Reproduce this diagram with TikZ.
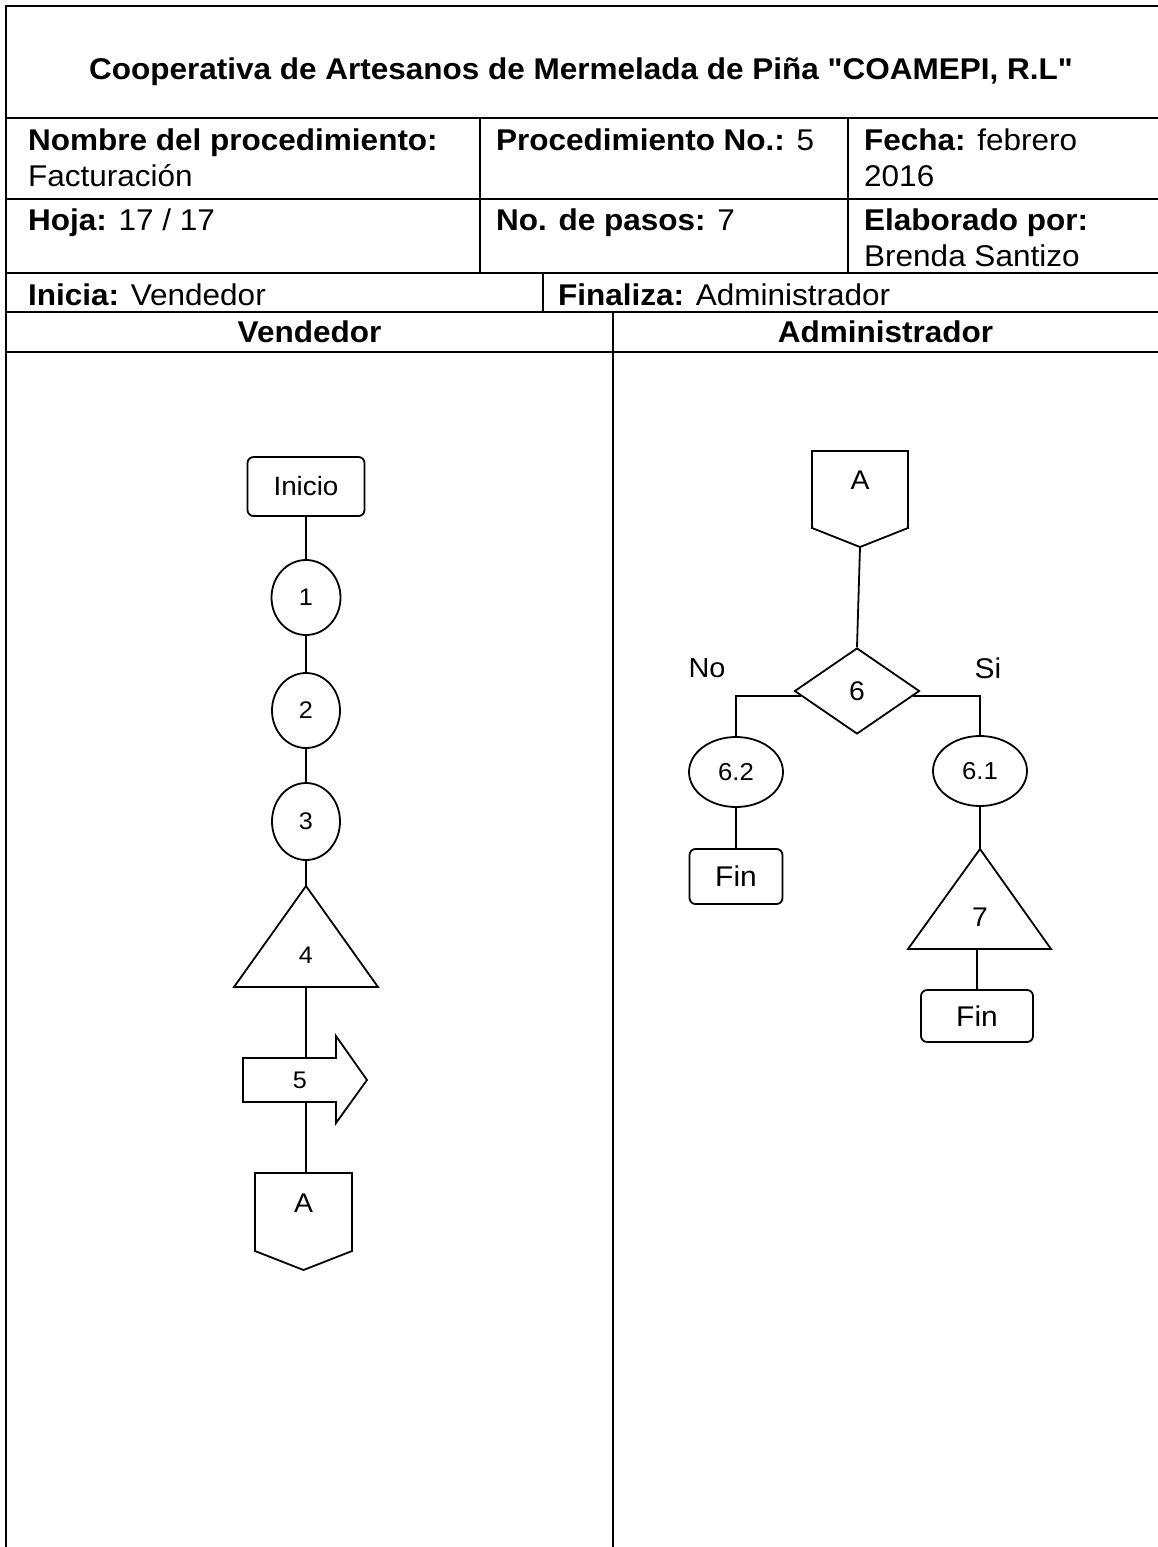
\documentclass[tikz,border=0pt]{standalone}
\usepackage{fontspec}
\setmainfont{Liberation Sans}[FakeStretch=1.05]
\newfontfamily\titlefont{Liberation Sans}[FakeStretch=1.05]
\usetikzlibrary{shapes.geometric}
\begin{document}
\begin{tikzpicture}[x=1pt,y=-1pt,
  grid/.style={line width=2pt},
  link/.style={line width=1.8pt},
  outline/.style={draw,line width=1.8pt,line join=miter},
  cell/.style={anchor=base west,inner sep=0pt,font=\fontsize{30}{34}\selectfont},
  lanehead/.style={anchor=base,inner sep=0pt,font=\fontsize{30}{34}\selectfont\bfseries},
  term/.style={outline,rounded corners=6pt,inner sep=0pt},
  proc/.style={outline,ellipse,inner sep=0pt},
  lbl/.style={inner sep=0pt}
]
\useasboundingbox (0,0) rectangle (1158,1547);
\fill[white] (0,0) rectangle (1158,1547);

% ---------- header table ----------
\draw[grid] (6,1547) -- (6,6) -- (1158,6);
\foreach \yy in {118,199,273,312,352} \draw[grid] (6,\yy) -- (1158,\yy);
\draw[grid] (480,118) -- (480,273);
\draw[grid] (848,118) -- (848,273);
\draw[grid] (543,273) -- (543,312);
\draw[grid] (613,312) -- (613,1547);

\node[anchor=base,inner sep=0pt,font=\titlefont\fontsize{30}{34}\selectfont\bfseries] (title) at (581,79)
  {Cooperativa de Artesanos de Mermelada de Piña "COAMEPI, R.L"};

\node[cell] (nombre) at (28,150) {\textbf{Nombre del procedimiento:}};
\node[cell] (nombrev) at (28,186) {Facturación};
\node[cell] (procno) at (496,150) {\textbf{Procedimiento No.:} 5};
\node[cell] (fecha) at (864,150) {\textbf{Fecha:} febrero};
\node[cell] (fechav) at (864,186) {2016};
\node[cell] (hoja) at (28,230) {\textbf{Hoja:} 17 / 17};
\node[cell] (pasos) at (496,230) {\textbf{No. de pasos:} 7};
\node[cell] (elab) at (864,230) {\textbf{Elaborado por:}};
\node[cell] (elabv) at (864,266) {Brenda Santizo};
\node[cell] (inicia) at (28,305) {\textbf{Inicia:} Vendedor};
\node[cell] (finaliza) at (558,305) {\textbf{Finaliza:} Administrador};
\node[lanehead] (laneV) at (309.5,342) {Vendedor};
\node[lanehead] (laneA) at (885.5,342) {Administrador};

% ---------- Vendedor lane ----------
\node[term,minimum width=117pt,minimum height=59pt,font=\fontsize{26.5}{30}\selectfont] (ini) at (306,486.5) {Inicio};
\node[proc,minimum width=69pt,minimum height=75pt,font=\fontsize{24}{27}\selectfont] (c1) at (306,597.5) {1};
\node[proc,minimum width=68pt,minimum height=75pt,font=\fontsize{24}{27}\selectfont] (c2) at (306,710.5) {2};
\node[proc,minimum width=68pt,minimum height=77pt,font=\fontsize{24}{27}\selectfont] (c3) at (306,821.5) {3};

% step 4: triangle
\draw[outline] (306,886) -- (378,987) -- (234,987) -- cycle;
\node[lbl,font=\fontsize{24}{27}\selectfont] (s4) at (306,955) {4};
\coordinate (s4top) at (306,886);
\coordinate (s4bot) at (306,987);

% step 5: block arrow
\draw[outline] (243,1058) -- (336,1058) -- (336,1036) -- (367,1080) -- (336,1123) -- (336,1102) -- (243,1102) -- cycle;
\node[lbl,font=\fontsize{24}{27}\selectfont] (s5) at (300,1080) {5};
\coordinate (s5top) at (306,1058);
\coordinate (s5bot) at (306,1102);

% off-page connector A (out)
\draw[outline] (255,1173) -- (352,1173) -- (352,1251) -- (303.5,1270) -- (255,1251) -- cycle;
\node[lbl,font=\fontsize{27}{30}\selectfont] (aout) at (303.5,1203) {A};
\coordinate (aouttop) at (306,1173);

\draw[link] (ini.south) -- (c1.north);
\draw[link] (c1.south) -- (c2.north);
\draw[link] (c2.south) -- (c3.north);
\draw[link] (c3.south) -- (s4top);
\draw[link] (s4bot) -- (s5top);
\draw[link] (s5bot) -- (aouttop);

% ---------- Administrador lane ----------
\draw[outline] (812,451) -- (908,451) -- (908,528) -- (860,547) -- (812,528) -- cycle;
\node[lbl,font=\fontsize{27}{30}\selectfont] (ain) at (860,480) {A};
\coordinate (ainbot) at (860,547);

\node[outline,diamond,minimum width=125pt,minimum height=86pt,inner sep=0pt,font=\fontsize{27}{30}\selectfont] (d6) at (857,691) {6};
\node[lbl,font=\fontsize{27.5}{30}\selectfont] (no) at (707,668) {No};
\node[lbl,font=\fontsize{28.5}{31}\selectfont] (si) at (988,668) {Si};

\node[proc,minimum width=94pt,minimum height=70pt,font=\fontsize{24.5}{27}\selectfont] (e62) at (736,772) {6.2};
\node[proc,minimum width=94pt,minimum height=70pt,font=\fontsize{24.5}{27}\selectfont] (e61) at (980,771) {6.1};
\node[term,minimum width=93pt,minimum height=55pt,font=\fontsize{28.5}{31}\selectfont] (fin1) at (736,876.5) {Fin};

% step 7: triangle
\draw[outline] (980,849) -- (1051,949) -- (908,949) -- cycle;
\node[lbl,font=\fontsize{27}{30}\selectfont] (s7) at (980,917) {7};
\coordinate (s7top) at (980,849);
\coordinate (s7bot) at (977,949);

\node[term,minimum width=112pt,minimum height=52pt,font=\fontsize{28.5}{31}\selectfont] (fin2) at (977,1016) {Fin};

\draw[link] (ainbot) -- (d6.north);
\draw[link] (d6.185) -| (e62.north);
\draw[link] (d6.-5) -| (e61.north);
\draw[link] (e62.south) -- (fin1.north);
\draw[link] (e61.south) -- (s7top);
\draw[link] (s7bot) -- (fin2.north);
\end{tikzpicture}
\end{document}
